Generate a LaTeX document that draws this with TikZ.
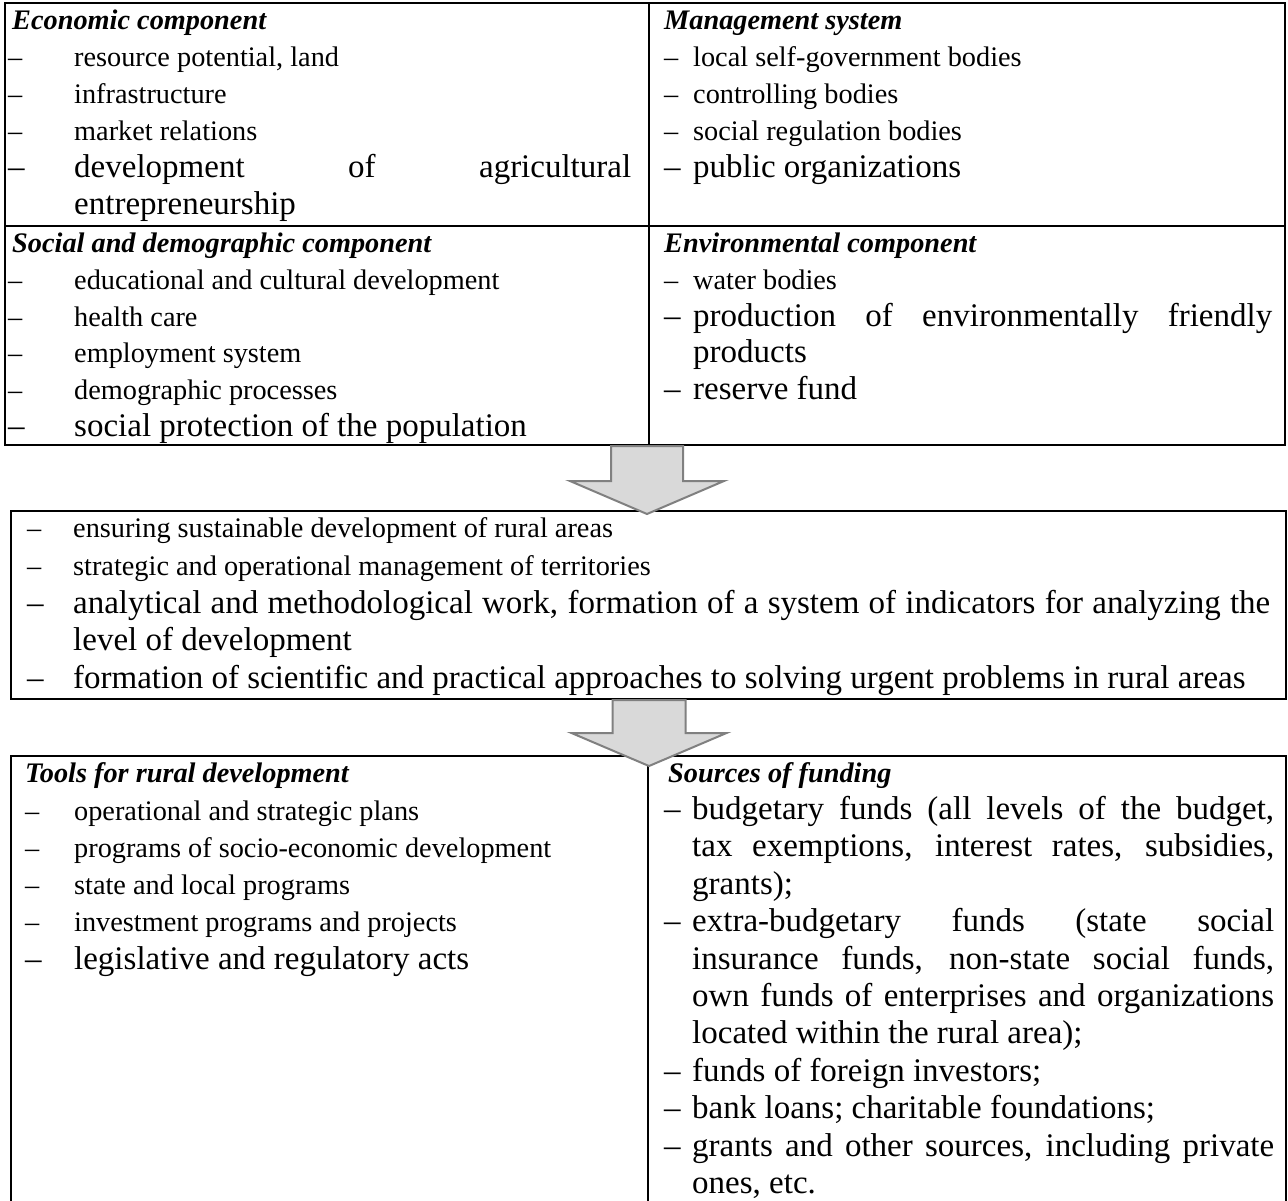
\documentclass[tikz,border=0pt]{standalone}
\usepackage{fontspec}
\setmainfont{Liberation Serif}
\begin{document}
\begin{tikzpicture}[x=1pt,y=-1pt,
  box/.style={draw=black, line width=2pt, inner sep=0pt, anchor=north west},
  rule/.style={draw=black, line width=2pt},
  sm/.style={font=\fontsize{28.3}{34}\selectfont, inner sep=0pt, anchor=base west},
  lg/.style={font=\fontsize{33}{38}\selectfont, inner sep=0pt, anchor=base west},
  hd/.style={font=\fontsize{28.3}{34}\selectfont\bfseries\itshape, inner sep=0pt, anchor=base west},
  blockarrow/.style={draw=black!50, fill=black!15, line width=2pt, line join=miter}
]
\clip (0,0) rectangle (1288,1200);
\fill[white] (0,0) rectangle (1288,1200);

% dash followed by text at a fixed indent
\newcommand\dl[2]{\makebox[#1pt][l]{–}#2}
\newcommand\jl[2]{\makebox[#1pt][s]{#2}}

% ---------- components table ----------
\node[box, minimum width=1280pt, minimum height=442pt] (comp) at (4,2) {};
\draw[rule] (comp.north) ++(4,0) coordinate (cdivtop) -- (cdivtop |- comp.south);
\draw[rule] (4,226) coordinate (csepl) -- (1284,226) coordinate (csepr);

\node[hd] (econ) at (12,29) {Economic component};
\node[sm] (econ1) at (8,66) {\dl{66}{resource potential, land}};
\node[sm] (econ2) at (8,103) {\dl{66}{infrastructure}};
\node[sm] (econ3) at (8,140) {\dl{66}{market relations}};
\node[lg] (econ4) at (8,177) {\dl{66}{\jl{557}{development of agricultural}}};
\node[lg] (econ4b) at (74,214) {entrepreneurship};

\node[hd] (mgmt) at (664,29) {Management system};
\node[sm] (mgmt1) at (664,66) {\dl{29}{local self-government bodies}};
\node[sm] (mgmt2) at (664,103) {\dl{29}{controlling bodies}};
\node[sm] (mgmt3) at (664,140) {\dl{29}{social regulation bodies}};
\node[lg] (mgmt4) at (664,177) {\dl{29}{public organizations}};

\node[hd] (soc) at (12,252) {Social and demographic component};
\node[sm] (soc1) at (8,289) {\dl{66}{educational and cultural development}};
\node[sm] (soc2) at (8,326) {\dl{66}{health care}};
\node[sm] (soc3) at (8,362) {\dl{66}{employment system}};
\node[sm] (soc4) at (8,399) {\dl{66}{demographic processes}};
\node[lg] (soc5) at (8,436) {\dl{66}{social protection of the population}};

\node[hd] (env) at (664,252) {Environmental component};
\node[sm] (env1) at (664,289) {\dl{29}{water bodies}};
\node[lg] (env2) at (664,326) {\dl{29}{\jl{579}{production of environmentally friendly}}};
\node[lg] (env2b) at (693,362) {products};
\node[lg] (env3) at (664,399) {\dl{29}{reserve fund}};

% ---------- tasks box ----------
\node[box, minimum width=1275pt, minimum height=188pt] (tasks) at (10,510) {};
\node[sm] (task1) at (27,537) {\dl{46}{ensuring sustainable development of rural areas}};
\node[sm] (task2) at (27,575) {\dl{46}{strategic and operational management of territories}};
\node[lg] (task3) at (27,613) {\dl{46}{\jl{1197}{analytical and methodological work, formation of a system of indicators for analyzing the}}};
\node[lg] (task3b) at (73,650) {level of development};
\node[lg] (task4) at (27,688) {\dl{46}{formation of scientific and practical approaches to solving urgent problems in rural areas}};

% ---------- tools and funding ----------
\node[box, minimum width=1275pt, minimum height=470pt] (means) at (10,755) {};
\draw[rule] (648,755) coordinate (mdivtop) -- (648,1230) coordinate (mdivbot);

\node[hd] (tools) at (25,782) {Tools for rural development};
\node[sm] (tools1) at (25,820) {\dl{49}{operational and strategic plans}};
\node[sm] (tools2) at (25,857) {\dl{49}{programs of socio-economic development}};
\node[sm] (tools3) at (25,894) {\dl{49}{state and local programs}};
\node[sm] (tools4) at (25,931) {\dl{49}{investment programs and projects}};
\node[lg] (tools5) at (25,969) {\dl{49}{legislative and regulatory acts}};

\node[hd] (fund) at (668,782) {Sources of funding};
\node[lg] (fund1) at (664,819.4) {\dl{28}{\jl{582}{budgetary funds (all levels of the budget,}}};
\node[lg] (fund1b) at (692,856.8) {\jl{582}{tax exemptions, interest rates, subsidies,}};
\node[lg] (fund1c) at (692,894.2) {grants);};
\node[lg] (fund2) at (664,931.6) {\dl{28}{\jl{582}{extra-budgetary funds (state social}}};
\node[lg] (fund2b) at (692,969) {\jl{582}{insurance funds, non-state social funds,}};
\node[lg] (fund2c) at (692,1006.4) {\jl{582}{own funds of enterprises and organizations}};
\node[lg] (fund2d) at (692,1043.8) {located within the rural area);};
\node[lg] (fund3) at (664,1081.2) {\dl{28}{funds of foreign investors;}};
\node[lg] (fund4) at (664,1118.6) {\dl{28}{bank loans; charitable foundations;}};
\node[lg] (fund5) at (664,1156) {\dl{28}{\jl{582}{grants and other sources, including private}}};
\node[lg] (fund5b) at (692,1193.4) {ones, etc.};

% ---------- block arrows between the boxes ----------
\path (comp.south) ++(2,0) coordinate (arrA);
\draw[blockarrow] (arrA) ++(-36,0) -- ++(72,0) -- ++(0,35) -- ++(41,0)
  -- ++(-77,33) -- ++(-77,-33) -- ++(41,0) -- cycle;
\path (tasks.south) ++(0.5,0) coordinate (arrB);
\draw[blockarrow] (arrB) ++(-36.5,0) -- ++(73,0) -- ++(0,33) -- ++(41,0)
  -- ++(-77.5,33) -- ++(-77.5,-33) -- ++(41,0) -- cycle;
\end{tikzpicture}
\end{document}
